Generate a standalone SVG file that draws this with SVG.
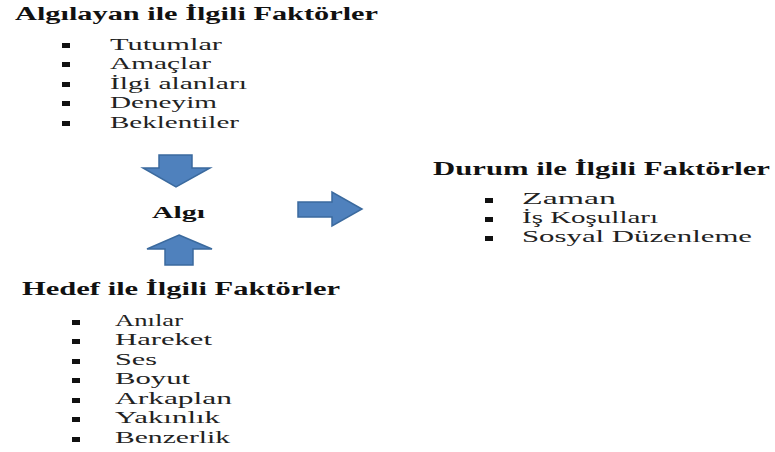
<svg xmlns="http://www.w3.org/2000/svg" width="775" height="452" viewBox="0 0 775 452">
  <style>
    text { font-family: 'Liberation Serif', 'DejaVu Serif', serif; }
    .head { font-weight: bold; font-size: 18px; fill: #111; }
    .item { font-size: 17px; fill: #222; }
    .core { font-weight: bold; font-size: 16px; fill: #111; }
    .bullet { fill: #111; }
    .arrow { fill: #4f81bd; stroke: #3b6a9e; stroke-width: 1.5; stroke-linejoin: miter; }
  </style>
  <rect width="775" height="452" fill="#ffffff"/>

  <!-- Factors related to the perceiver -->
  <g id="algilayan" font-family="Liberation Serif, DejaVu Serif, serif">
    <text class="head" x="15" y="20" textLength="363" lengthAdjust="spacingAndGlyphs">Algılayan ile İlgili Faktörler</text>
    <rect class="bullet" x="62" y="43" width="8" height="5"/>
    <rect class="bullet" x="62" y="62" width="8" height="5"/>
    <rect class="bullet" x="62" y="82" width="8" height="5"/>
    <rect class="bullet" x="62" y="101" width="8" height="5"/>
    <rect class="bullet" x="62" y="121" width="8" height="5"/>
    <text class="item" x="110" y="50" textLength="112" lengthAdjust="spacingAndGlyphs">Tutumlar</text>
    <text class="item" x="110" y="69" textLength="101" lengthAdjust="spacingAndGlyphs">Amaçlar</text>
    <text class="item" x="110" y="89" textLength="137" lengthAdjust="spacingAndGlyphs">İlgi alanları</text>
    <text class="item" x="110" y="108" textLength="107" lengthAdjust="spacingAndGlyphs">Deneyim</text>
    <text class="item" x="110" y="128" textLength="129" lengthAdjust="spacingAndGlyphs">Beklentiler</text>
  </g>

  <!-- Central concept -->
  <g id="algi" font-family="Liberation Serif, DejaVu Serif, serif">
    <text class="core" x="152" y="218" textLength="53" lengthAdjust="spacingAndGlyphs">Algı</text>
  </g>

  <!-- Factors related to the situation -->
  <g id="durum" font-family="Liberation Serif, DejaVu Serif, serif">
    <text class="head" x="433" y="175" textLength="337" lengthAdjust="spacingAndGlyphs">Durum ile İlgili Faktörler</text>
    <rect class="bullet" x="485" y="198" width="8" height="5"/>
    <rect class="bullet" x="485" y="217" width="8" height="5"/>
    <rect class="bullet" x="485" y="236" width="8" height="5"/>
    <text class="item" x="522" y="204" textLength="94" lengthAdjust="spacingAndGlyphs">Zaman</text>
    <text class="item" x="522" y="223" textLength="136" lengthAdjust="spacingAndGlyphs">İş Koşulları</text>
    <text class="item" x="522" y="242" textLength="230" lengthAdjust="spacingAndGlyphs">Sosyal Düzenleme</text>
  </g>

  <!-- Factors related to the target -->
  <g id="hedef" font-family="Liberation Serif, DejaVu Serif, serif">
    <text class="head" x="22" y="295" textLength="318" lengthAdjust="spacingAndGlyphs">Hedef ile İlgili Faktörler</text>
    <rect class="bullet" x="72" y="320" width="8" height="5"/>
    <rect class="bullet" x="72" y="339" width="8" height="5"/>
    <rect class="bullet" x="72" y="359" width="8" height="5"/>
    <rect class="bullet" x="72" y="378" width="8" height="5"/>
    <rect class="bullet" x="72" y="398" width="8" height="5"/>
    <rect class="bullet" x="72" y="417" width="8" height="5"/>
    <rect class="bullet" x="72" y="437" width="8" height="5"/>
    <text class="item" x="115" y="326" textLength="68" lengthAdjust="spacingAndGlyphs">Anılar</text>
    <text class="item" x="115" y="345" textLength="97" lengthAdjust="spacingAndGlyphs">Hareket</text>
    <text class="item" x="115" y="365" textLength="42" lengthAdjust="spacingAndGlyphs">Ses</text>
    <text class="item" x="115" y="384" textLength="75" lengthAdjust="spacingAndGlyphs">Boyut</text>
    <text class="item" x="115" y="404" textLength="117" lengthAdjust="spacingAndGlyphs">Arkaplan</text>
    <text class="item" x="115" y="423" textLength="105" lengthAdjust="spacingAndGlyphs">Yakınlık</text>
    <text class="item" x="115" y="443" textLength="115" lengthAdjust="spacingAndGlyphs">Benzerlik</text>
  </g>

  <!-- Block arrows -->
  <g id="connectors">
    <polygon class="arrow" points="159,155 192,155 192,168 210,168 176,187 143,168 159,168"/>
    <polygon class="arrow" points="179,235 212,249 193,249 193,265 165,265 165,249 147,249"/>
    <polygon class="arrow" points="298,202 332,202 332,192 362,209 332,226 332,217 298,217"/>
  </g>
</svg>
